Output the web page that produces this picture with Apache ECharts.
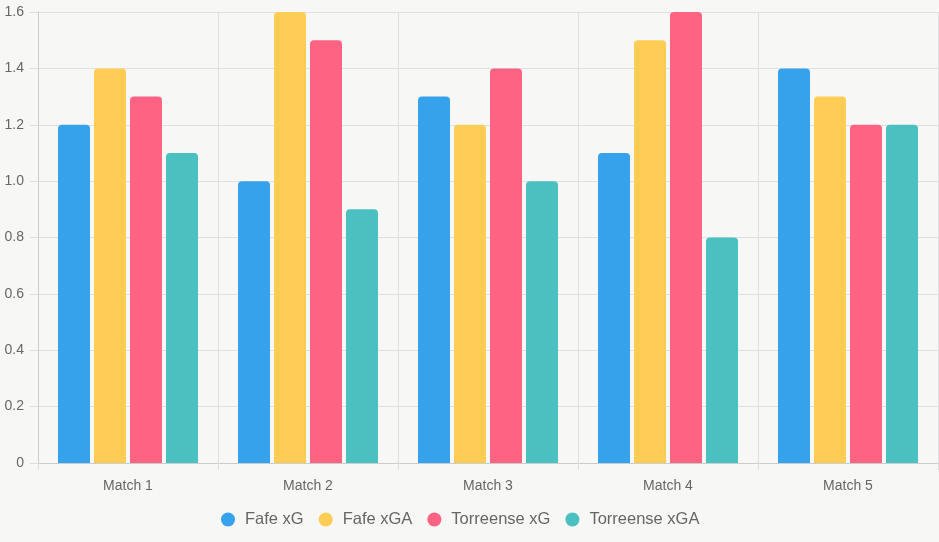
<!DOCTYPE html>
<html>
<head>
    <meta charset="utf-8">
    <title>xG chart</title>
    <script src="https://fastly.jsdelivr.net/npm/echarts@6/dist/echarts.min.js"></script>
    <style>
        html, body { margin: 0; padding: 0; background: #f7f7f5; }
    </style>
</head>
<body>
    <div id="main" style="width: 939px;height:542px;"></div>
    <script type="text/javascript">
        var categories = ['Match 1', 'Match 2', 'Match 3', 'Match 4', 'Match 5'];
        var seriesNames = ['Fafe xG', 'Fafe xGA', 'Torreense xG', 'Torreense xGA'];
        var fafeXG = [1.2, 1.0, 1.3, 1.1, 1.4];
        var fafeXGA = [1.4, 1.6, 1.2, 1.5, 1.3];
        var torreenseXG = [1.3, 1.5, 1.4, 1.6, 1.2];
        var torreenseXGA = [1.1, 0.9, 1.0, 0.8, 1.2];
        var colors = ['#36A2EB', '#FFCD56', '#FF6384', '#4BC0C0'];

        var myChart = echarts.init(document.getElementById('main'));

        var allData = [fafeXG, fafeXGA, torreenseXG, torreenseXGA];
        var series = allData.map(function (d, i) {
            return {
                name: seriesNames[i],
                type: 'bar',
                data: d,
                barWidth: 32,
                barGap: '12.5%',
                itemStyle: { color: colors[i], borderRadius: [4, 4, 0, 0] }
            };
        });

        var option = {
            backgroundColor: '#f7f7f5',
            color: colors,
            textStyle: { fontFamily: 'Liberation Sans, Arial, sans-serif' },
            grid: { left: 38, right: 1, top: 12, bottom: 79 },
            legend: {
                bottom: 9,
                left: 216,
                icon: 'circle',
                itemWidth: 24,
                itemHeight: 14,
                itemGap: 15,
                textStyle: { fontSize: 16.5, color: '#666' },
                selectedMode: false
            },
            xAxis: {
                type: 'category',
                data: categories,
                axisLine: { lineStyle: { color: '#ccc' } },
                axisTick: { show: true, length: 7, lineStyle: { color: '#ddd' } },
                axisLabel: { color: '#666', fontSize: 14, margin: 16 },
                splitLine: { show: true, lineStyle: { color: '#e0e0e0' } }
            },
            yAxis: {
                type: 'value',
                min: 0,
                max: 1.6,
                interval: 0.2,
                axisLine: { show: true, lineStyle: { color: '#ccc' } },
                axisTick: { show: true, length: 8, lineStyle: { color: '#ddd' } },
                axisLabel: {
                    color: '#666', fontSize: 14, margin: 14,
                    formatter: function (v) { return v === 0 ? '0' : v.toFixed(1); }
                },
                splitLine: { lineStyle: { color: '#e0e0e0' } }
            },
            series: series
        };

        myChart.setOption(option);
    </script>
</body>
</html>
